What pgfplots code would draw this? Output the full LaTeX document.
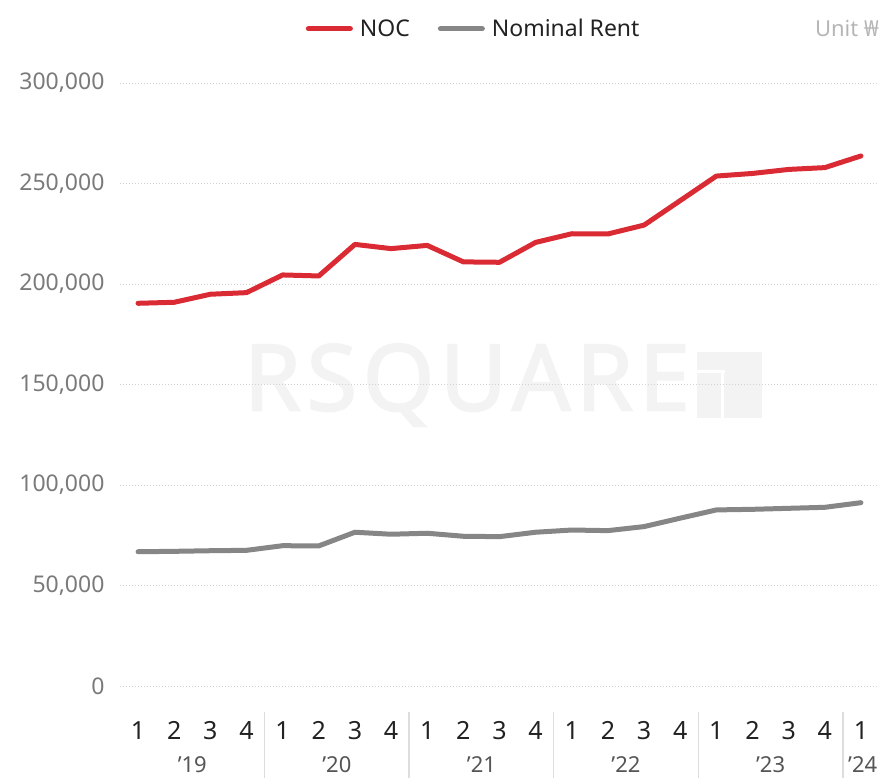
\documentclass[border=0pt]{standalone}
\usepackage{fontspec}
\setmainfont{Noto Sans}
\newfontfamily\wmfont{Noto Sans}[FakeBold=2, LetterSpace=6]
\usepackage{pgfplots}
\pgfplotsset{compat=1.18}
\definecolor{nocred}{HTML}{DA2A33}
\definecolor{rentgray}{HTML}{868686}
\definecolor{gridc}{HTML}{D2D2D2}
\definecolor{ylab}{HTML}{7A7A7A}
\definecolor{qlab}{HTML}{222222}
\definecolor{yrlab}{HTML}{555555}
\definecolor{sepc}{HTML}{DDDDDD}
\definecolor{wm}{HTML}{F3F3F3}
\definecolor{unitc}{HTML}{B5B5B5}
\begin{document}
\begin{tikzpicture}
\node[font=\fontsize{92}{92}\wmfont, text=wm, anchor=center] at (347pt,301pt) {RSQUARE};
\fill[wm] (577pt,268pt) rectangle (642pt,334pt);
\fill[white] (577pt,313pt) rectangle (605pt,315.5pt);
\fill[white] (601pt,268pt) rectangle (604pt,315.5pt);
\begin{axis}[
  scale only axis, width=759pt, height=603pt,
  xmin=0.5, xmax=21.5, ymin=0, ymax=300000,
  clip=false,
  axis line style={draw=none}, tick style={draw=none}, major tick length=0pt,
  ymajorgrids, grid style={gridc, line width=0.9pt, dash pattern=on 1pt off 2pt},
  ytick={0,50000,100000,150000,200000,250000,300000},
  yticklabels={0,{50,000},{100,000},{150,000},{200,000},{250,000},{300,000}},
  scaled y ticks=false,
  yticklabel style={font=\fontsize{23}{23}\selectfont, text=ylab, xshift=-12pt},
  xtick={1,...,21},
  xticklabels={1,2,3,4,1,2,3,4,1,2,3,4,1,2,3,4,1,2,3,4,1},
  xticklabel style={font=\fontsize{25}{25}\selectfont, text=qlab, anchor=base, yshift=-53pt},
  legend style={at={(0.466,1.09)}, anchor=center, draw=none, fill=none,
    font=\fontsize{23}{23}\selectfont, text=qlab, legend columns=2,
    /tikz/every even column/.append style={column sep=26pt}},
  legend cell align=left,
  legend image code/.code={\draw[#1] (0pt,0pt) -- (42pt,0pt); \path (47pt,0pt);},
]
\addplot[nocred, line width=5pt, line join=round, line cap=round] coordinates {
(1,190400) (2,190900) (3,194900) (4,195700) (5,204500) (6,204000) (7,219700)
(8,217600) (9,219200) (10,211000) (11,210800) (12,220700) (13,225000) (14,224900)
(15,229300) (16,241500) (17,253700) (18,255000) (19,257000) (20,257900) (21,263700)};
\addlegendentry{NOC}
\addplot[rentgray, line width=5pt, line join=round, line cap=round] coordinates {
(1,66800) (2,67000) (3,67300) (4,67500) (5,69800) (6,69700) (7,76500)
(8,75500) (9,76000) (10,74500) (11,74300) (12,76500) (13,77600) (14,77300)
(15,79300) (16,83500) (17,87600) (18,87900) (19,88400) (20,88900) (21,91200)};
\addlegendentry{Nominal Rent}
\draw[sepc, line width=1.5pt] (axis cs:4.5,0) ++(0pt,-26pt) -- ++(0pt,-66pt);
\draw[sepc, line width=1.5pt] (axis cs:8.5,0) ++(0pt,-26pt) -- ++(0pt,-66pt);
\draw[sepc, line width=1.5pt] (axis cs:12.5,0) ++(0pt,-26pt) -- ++(0pt,-66pt);
\draw[sepc, line width=1.5pt] (axis cs:16.5,0) ++(0pt,-26pt) -- ++(0pt,-66pt);
\draw[sepc, line width=1.5pt] (axis cs:20.5,0) ++(0pt,-26pt) -- ++(0pt,-66pt);
\node[anchor=base, inner sep=0pt, font=\fontsize{22}{22}\selectfont, text=yrlab] at ([yshift=-86pt]axis cs:2.5,0) {’19};
\node[anchor=base, inner sep=0pt, font=\fontsize{22}{22}\selectfont, text=yrlab] at ([yshift=-86pt]axis cs:6.5,0) {’20};
\node[anchor=base, inner sep=0pt, font=\fontsize{22}{22}\selectfont, text=yrlab] at ([yshift=-86pt]axis cs:10.5,0) {’21};
\node[anchor=base, inner sep=0pt, font=\fontsize{22}{22}\selectfont, text=yrlab] at ([yshift=-86pt]axis cs:14.5,0) {’22};
\node[anchor=base, inner sep=0pt, font=\fontsize{22}{22}\selectfont, text=yrlab] at ([yshift=-86pt]axis cs:18.5,0) {’23};
\node[anchor=base, inner sep=0pt, font=\fontsize{22}{22}\selectfont, text=yrlab] at ([yshift=-86pt]axis cs:21.05,0) {’24};
\node[anchor=east, inner sep=0pt, font=\fontsize{22}{22}\selectfont, text=unitc] at (rel axis cs:1,1.09) {Unit ₩};
\end{axis}
\pgfresetboundingbox
\path[use as bounding box] (-120pt,-92pt) rectangle (762pt,686pt);
\end{tikzpicture}
\end{document}
